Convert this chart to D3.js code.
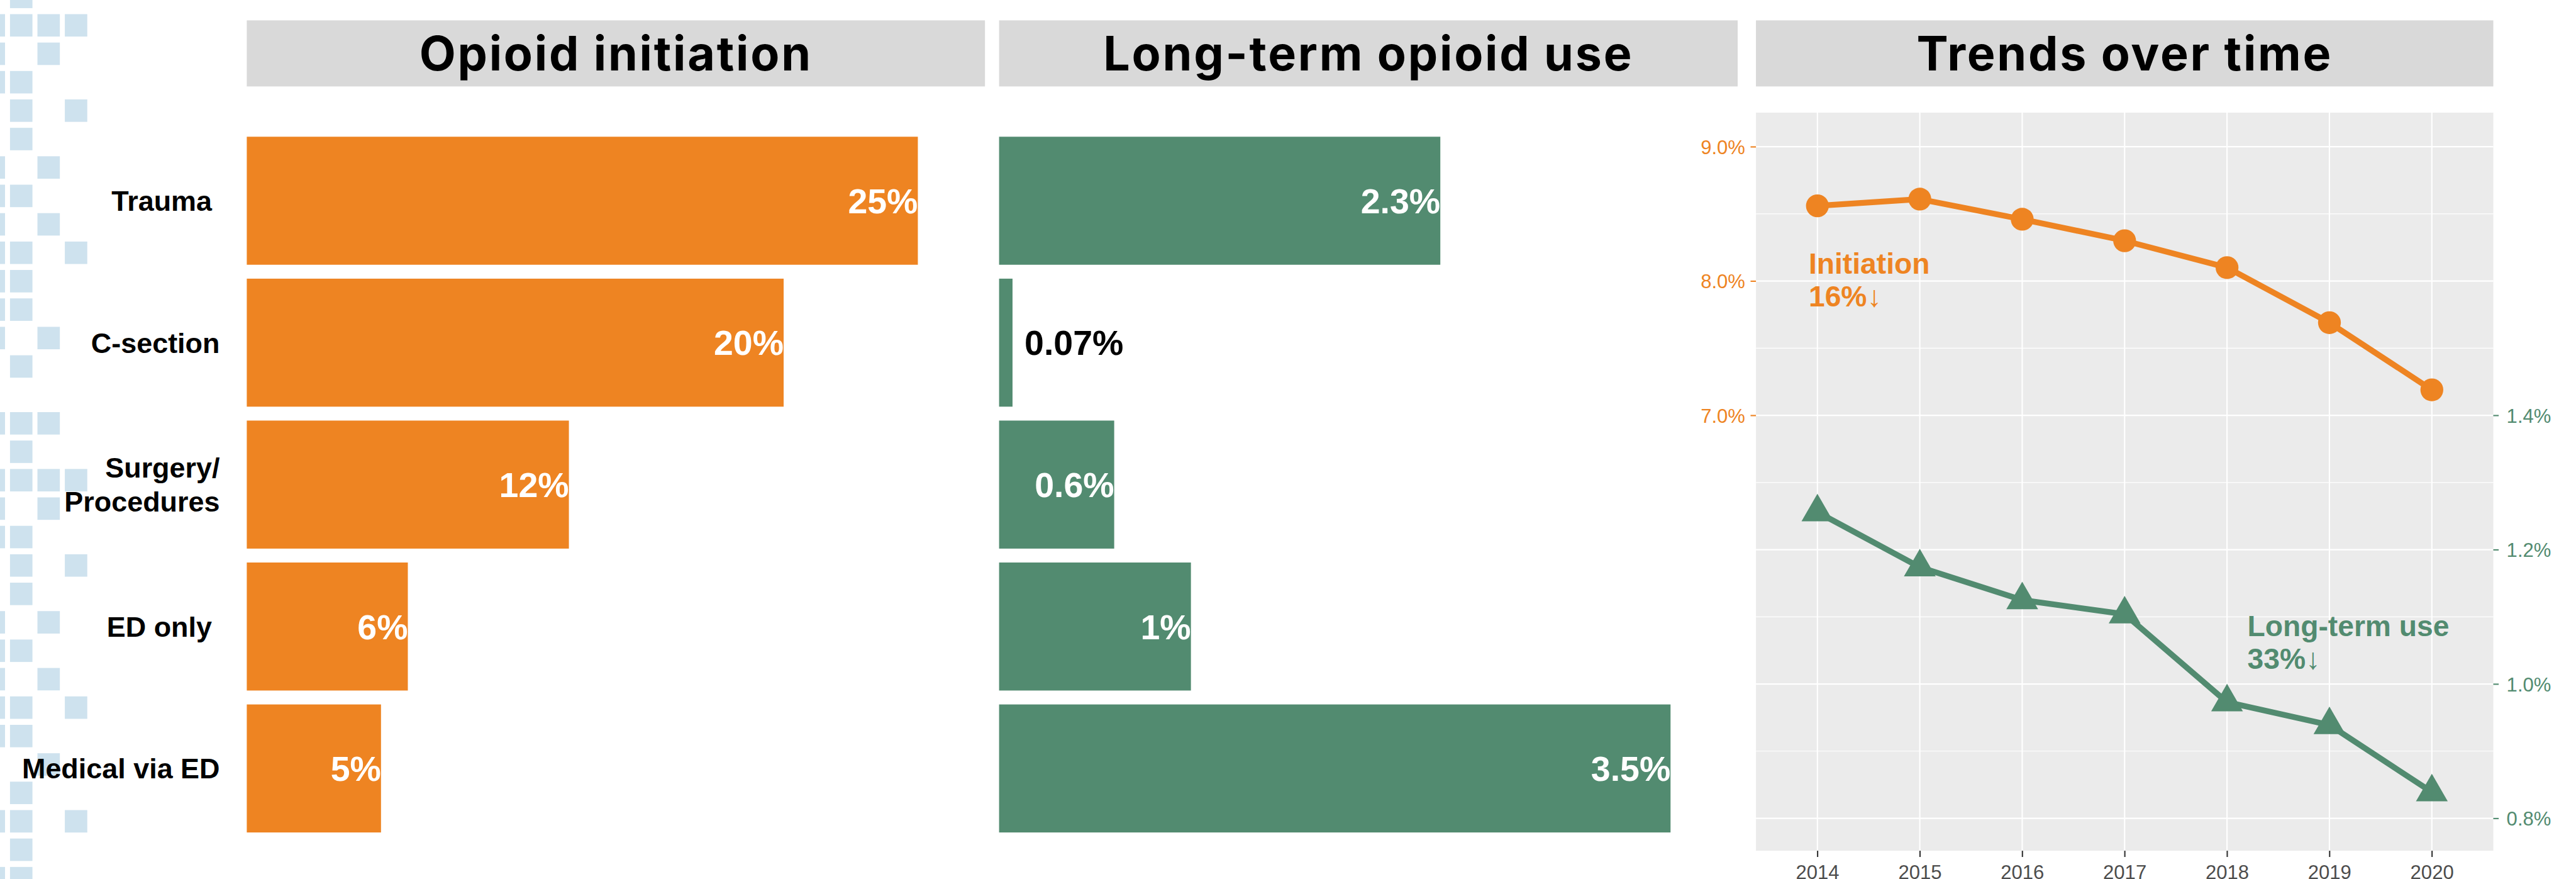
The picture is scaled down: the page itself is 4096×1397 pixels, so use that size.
<!DOCTYPE html>
<html><head><meta charset="utf-8">
<script src="https://cdn.jsdelivr.net/npm/d3@7"></script>
<style>
html,body{margin:0;padding:0;background:#fff;overflow:hidden}
svg text{white-space:pre}
</style>
</head><body><svg id="chart"></svg>
<script>
// ---------------- DATA ----------------
const panelTitles = ["Opioid initiation", "Long-term opioid use", "Trends over time"];
const categories = ["Trauma ", "C-section", "Surgery/\nProcedures", "ED only ", "Medical via ED"];
const initiationPct = [25, 20, 12, 6, 5];
const initiationLabels = ["25%", "20%", "12%", "6%", "5%"];
const longTermPct = [2.3, 0.07, 0.6, 1, 3.5];
const longTermLabels = ["2.3%", "0.07%", "0.6%", "1%", "3.5%"];
const years = [2014, 2015, 2016, 2017, 2018, 2019, 2020];
const trendInitiation = [8.56, 8.61, 8.46, 8.30, 8.10, 7.69, 7.19];
const trendLongTerm = [1.256, 1.174, 1.125, 1.104, 0.973, 0.939, 0.839];
const leftTicks = [7, 8, 9];
const rightTicks = [0.8, 1.0, 1.2, 1.4];
const initiationNote = ["Initiation", "16%\u2193"];
const longTermNote = ["Long-term use", "33%\u2193"];
// decorative tile pattern: filled columns per row
const tileRows = [[1],[0,1,2,3],[0,2],[0,1],[1,3],[1],[0,2],[0,1],[0,2],[0,1,3],[0,1],[0,1],[0,2],[1],[],
  [0,1,2],[1],[0,1,2,3],[0,2],[0,1],[1,3],[1],[0,2],[0,1],[0,2],[0,1,3],[0,1],[2],[1],[0,1,3],[1],[0,1]];

// ---------------- SETUP ----------------
const W = 6199, H = 2115;
const svg = d3.select("#chart").attr("width", 4096).attr("height", 1397)
  .attr("viewBox", `0 0 ${W} ${H}`);
const ORANGE = "#EE8422", GREEN = "#528B70", TILE = "#CEE2EE";
const SANS = "'Liberation Sans', Arial, sans-serif";
const HEAD = "Inter, 'Open Sans', sans-serif";

// decorative tiles
const tileCols = d3.scaleLinear().domain([0, 1]).range([-43, 23]);
const tileY = d3.scaleLinear().domain([0, 1]).range([-34.4, 34]);
const tiles = [];
tileRows.forEach((cols, r) => cols.forEach(c => tiles.push({r: r - 1, c})));
svg.append("g").selectAll("rect").data(tiles).join("rect")
  .attr("x", d => tileCols(d.c)).attr("y", d => tileY(d.r + 1))
  .attr("width", 54).attr("height", 54).attr("fill", TILE);

// headers
const headers = [[593, 2370], [2404, 4182], [4226, 6001]];
const hg = svg.append("g");
headers.forEach((h, i) => {
  hg.append("rect").attr("x", h[0]).attr("y", 49).attr("width", h[1] - h[0]).attr("height", 159).attr("fill", "#D9D9D9");
  hg.append("text").attr("x", (h[0] + h[1]) / 2).attr("y", 170).attr("text-anchor", "middle")
    .attr("font-family", HEAD).attr("font-weight", 700).attr("font-size", 114).attr("fill", "#000")
    .attr("letter-spacing", 4.2)
    .text(panelTitles[i]);
});

// band scale for bars
const yBand = d3.scaleBand().domain(categories).range([312.25, 2019.75]).paddingInner(0.098).paddingOuter(0.049);

// category labels
const catFs = 68, catLH = 81;
const cg = svg.append("g").attr("font-family", SANS).attr("font-weight", 700).attr("font-size", catFs);
categories.forEach(c => {
  const lines = c.split("\n");
  const cy = yBand(c) + yBand.bandwidth() / 2;
  const t = cg.append("text").attr("text-anchor", "end");
  lines.forEach((ln, i) => {
    t.append("tspan").attr("x", 528)
      .attr("y", cy + 0.716 * catFs / 2 + (i - (lines.length - 1) / 2) * catLH).text(ln);
  });
});

function barPanel(values, labels, x0, x1, maxV, color) {
  const x = d3.scaleLinear().domain([0, maxV]).range([x0, x1]);
  const g = svg.append("g");
  g.selectAll("rect").data(values).join("rect")
    .attr("x", x(0)).attr("y", (d, i) => yBand(categories[i]))
    .attr("width", d => x(d) - x(0)).attr("height", yBand.bandwidth()).attr("fill", color);
  const fs = 84;
  g.selectAll("text").data(values).join("text")
    .attr("font-family", SANS).attr("font-weight", 700).attr("font-size", fs)
    .attr("y", (d, i) => yBand(categories[i]) + yBand.bandwidth() / 2 + 0.358 * fs)
    .each(function(d, i) {
      const inside = x(d) - x(0) > 200;
      d3.select(this).attr("x", inside ? x(d) : x(d) + 29)
        .attr("text-anchor", inside ? "end" : "start")
        .attr("fill", inside ? "#fff" : "#000")
        .text(labels[i]);
    });
}
barPanel(initiationPct, initiationLabels, 593, 2370, 27.5, ORANGE);
barPanel(longTermPct, longTermLabels, 2404, 4182, 3.85, GREEN);

// ---------------- TREND PANEL ----------------
const px0 = 4226, px1 = 6001, py0 = 271, py1 = 2047;
const xYear = d3.scalePoint().domain(years).range([px0, px1]).padding(0.6);
const yL = d3.scaleLinear().domain([3.7587, 9.2537]).range([py1, py0]);
const yR = d3.scaleLinear().domain([3.7587 / 5, 9.2537 / 5]).range([py1, py0]);
const tg = svg.append("g");
tg.append("rect").attr("x", px0).attr("y", py0).attr("width", px1 - px0).attr("height", py1 - py0).attr("fill", "#EBEBEB");
// minor grid
tg.append("g").selectAll("line").data(d3.range(4.5, 9.0, 1)).join("line")
  .attr("x1", px0).attr("x2", px1).attr("y1", d => yL(d)).attr("y2", d => yL(d))
  .attr("stroke", "#fff").attr("stroke-width", 1.6);
// major grid
tg.append("g").selectAll("line").data(d3.range(4, 9.01, 1)).join("line")
  .attr("x1", px0).attr("x2", px1).attr("y1", d => yL(d)).attr("y2", d => yL(d))
  .attr("stroke", "#fff").attr("stroke-width", 3.2);
tg.append("g").selectAll("line").data(years).join("line")
  .attr("x1", d => xYear(d)).attr("x2", d => xYear(d)).attr("y1", py0).attr("y2", py1)
  .attr("stroke", "#fff").attr("stroke-width", 3.2);

// axes
const axL = d3.axisLeft(yL).tickValues(leftTicks).tickSize(13).tickPadding(13)
  .tickFormat(d => d3.format(".1f")(d) + "%");
const gL = tg.append("g").attr("transform", `translate(${px0},0)`).call(axL);
gL.select(".domain").remove();
gL.selectAll("line").attr("stroke", ORANGE).attr("stroke-width", 3.2);
gL.selectAll("text").attr("fill", ORANGE).attr("font-family", SANS).attr("font-size", 47).attr("dy", "0.36em");

const axR = d3.axisRight(yR).tickValues(rightTicks).tickSize(13).tickPadding(19)
  .tickFormat(d => d3.format(".1f")(d) + "%");
const gR = tg.append("g").attr("transform", `translate(${px1},0)`).call(axR);
gR.select(".domain").remove();
gR.selectAll("line").attr("stroke", GREEN).attr("stroke-width", 3.2);
gR.selectAll("text").attr("fill", GREEN).attr("font-family", SANS).attr("font-size", 47).attr("dy", "0.36em");

const axB = d3.axisBottom(xYear).tickSize(15).tickPadding(20);
const gB = tg.append("g").attr("transform", `translate(0,${py1})`).call(axB);
gB.select(".domain").remove();
gB.selectAll("line").attr("stroke", "#333").attr("stroke-width", 3.2);
gB.selectAll("text").attr("fill", "#4D4D4D").attr("font-family", SANS).attr("font-size", 47).attr("dy", "0.71em");

// lines
const lineL = d3.line().x((d, i) => xYear(years[i])).y(d => yL(d));
const lineR = d3.line().x((d, i) => xYear(years[i])).y(d => yR(d));
tg.append("path").attr("d", lineL(trendInitiation)).attr("fill", "none").attr("stroke", ORANGE)
  .attr("stroke-width", 14).attr("stroke-linejoin", "round");
tg.append("path").attr("d", lineR(trendLongTerm)).attr("fill", "none").attr("stroke", GREEN)
  .attr("stroke-width", 14).attr("stroke-linejoin", "round");
tg.append("g").selectAll("circle").data(trendInitiation).join("circle")
  .attr("cx", (d, i) => xYear(years[i])).attr("cy", d => yL(d)).attr("r", 27.5).attr("fill", ORANGE);
const tri = d3.symbol().type(d3.symbolTriangle).size(2534);
tg.append("g").selectAll("path").data(trendLongTerm).join("path")
  .attr("d", tri).attr("transform", (d, i) => `translate(${xYear(years[i])},${yR(d)})`).attr("fill", GREEN);

// annotations
function note(lines, x, y, color) {
  const t = tg.append("text").attr("font-family", SANS).attr("font-weight", 700).attr("font-size", 70).attr("fill", color);
  lines.forEach((ln, i) => t.append("tspan").attr("x", x).attr("y", y + i * 79).text(ln));
}
note(initiationNote, 4353, 658, ORANGE);
note(longTermNote, 5409, 1531, GREEN);
</script>
</body></html>
